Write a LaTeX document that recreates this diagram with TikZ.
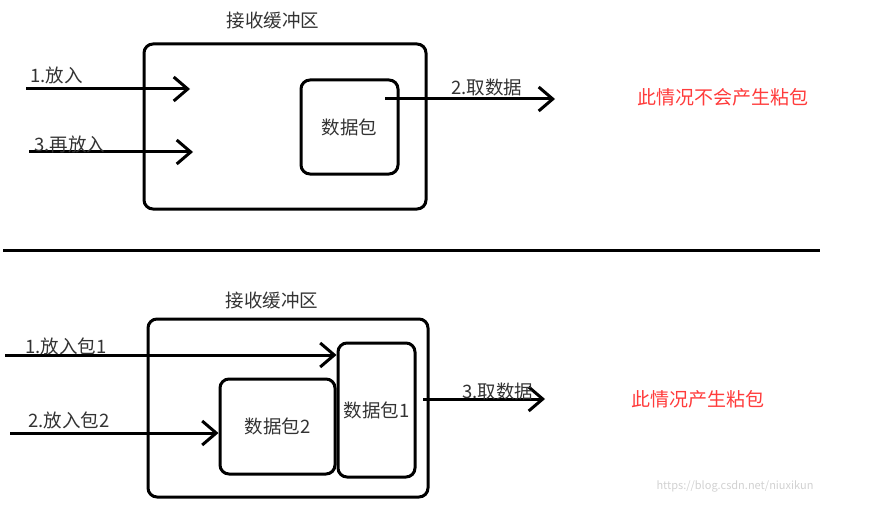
\documentclass[tikz,border=0pt]{standalone}
\usepackage{fontspec}
\setmainfont{Noto Sans CJK SC}
\usepackage{xcolor}
\usetikzlibrary{arrows.meta,positioning}
\definecolor{txtgray}{HTML}{333333}
\definecolor{hintred}{HTML}{FF3B3B}
\tikzset{
  buf/.style={draw, line width=3pt, rounded corners=9pt, inner sep=0pt},
  pkt/.style={draw, line width=3pt, rounded corners=9pt, inner sep=0pt,
              font=\fontsize{18.5}{22}\selectfont, text=txtgray},
  lbl/.style={font=\fontsize{18.5}{22}\selectfont, text=txtgray, inner sep=0pt},
  note/.style={font=\fontsize{19}{22}\selectfont, text=hintred, inner sep=0pt},
  put/.style={line width=3pt, -{Straight Barb[length=14pt,width=24pt,line width=3pt]}},
}

\begin{document}
\begin{tikzpicture}[x=1pt, y=-1pt]
    \useasboundingbox (0,0) rectangle (874,505);
    % upper case
    \node[lbl] (titleA) at (273,21) {接收缓冲区};
    \node[buf, minimum width=282pt, minimum height=165pt] (bufA) at (285,126.5) {};
    \node[pkt, minimum width=97pt, minimum height=94pt] (pktA) at (349.5,127) {数据包};
    \coordinate (inA1) at (26,89);   \coordinate (endA1) at (190,89);
    \coordinate (inA3) at (29,152);  \coordinate (endA3) at (193,152);
    \coordinate (outA) at (385,99);  \coordinate (endA2) at (555,99);
    \draw[put] (inA1) -- (endA1);
    \draw[put] (inA3) -- (endA3);
    \draw[put] (outA) -- (endA2);
    \node[lbl, anchor=west] (putA1) at (30,75) {1.放入};
    \node[lbl, anchor=west] (putA3) at (34,144) {3.再放入};
    \node[lbl, anchor=west] (getA2) at (451,87) {2.取数据};
    \node[note] (noteA) at (723,97) {此情况不会产生粘包};
    % divider
    \coordinate (divL) at (3,250.5);  \coordinate (divR) at (820,250.5);
    \draw[line width=3pt] (divL) -- (divR);
    % lower case
    \node[lbl] (titleB) at (272,300) {接收缓冲区};
    \node[buf, minimum width=280pt, minimum height=178pt] (bufB) at (288,408) {};
    \node[pkt, minimum width=77pt, minimum height=134pt] (pktB1) at (376.5,410) {数据包1};
    \node[pkt, minimum width=115pt, minimum height=95pt] (pktB2) at (277.5,426.5) {数据包2};
    \coordinate (inB1) at (5,355);   \coordinate (inB2) at (10,433);
    \coordinate (outB) at (423,399); \coordinate (endB3) at (545,399);
    \draw[put] (inB1) -- (pktB1.west |- inB1);
    \draw[put] (inB2) -- (pktB2.west |- inB2);
    \draw[put] (outB) -- (endB3);
    \node[lbl, anchor=west] (putB1) at (25,346) {1.放入包1};
    \node[lbl, anchor=west] (putB2) at (28,420) {2.放入包2};
    \node[lbl, anchor=west] (getB3) at (462,391) {3.取数据};
    \node[note] (noteB) at (698,399) {此情况产生粘包};
    \node[font=\fontsize{11}{13}\selectfont, text=black!18, inner sep=0pt] (mark) at (735,486) {https://blog.csdn.net/niuxikun};
\end{tikzpicture}
\end{document}
